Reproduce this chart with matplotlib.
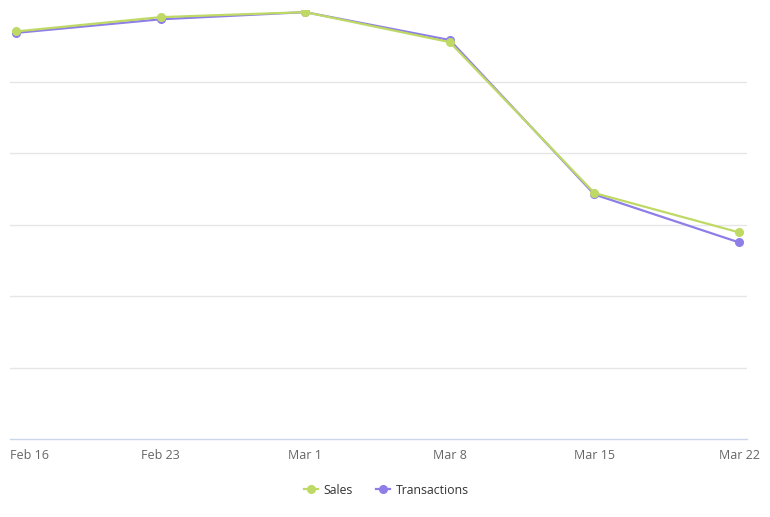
import matplotlib
matplotlib.use('Agg')
import matplotlib.pyplot as plt
import matplotlib.transforms as mtransforms

plt.rcParams['font.family'] = ['Open Sans', 'DejaVu Sans']

weeks = ['Feb 16', 'Feb 23', 'Mar 1', 'Mar 8', 'Mar 15', 'Mar 22']
sales = [5.70, 5.90, 5.97, 5.55, 3.44, 2.89]
transactions = [5.68, 5.87, 5.97, 5.58, 3.42, 2.75]

sales_color = '#bfd965'
trans_color = '#8d7ee8'

fig = plt.figure(figsize=(7.7, 5.17), dpi=100)
ax = fig.add_axes([10 / 770, 78 / 517, 737 / 770, 429 / 517])

x = list(range(len(weeks)))
ax.plot(x, transactions, color=trans_color, lw=1.6, marker='o', ms=5.5,
        label='Transactions', zorder=3)
ax.plot(x, sales, color=sales_color, lw=1.6, marker='o', ms=5.5,
        label='Sales', zorder=4)

ax.set_xlim(-6 / 144.6, 5 + 8 / 144.6)
ax.set_ylim(0, 6)
ax.set_yticks([1, 2, 3, 4, 5])
ax.set_yticklabels([])
ax.grid(axis='y', color='#e6e6e6', lw=1)
ax.tick_params(axis='y', length=0)
ax.set_axisbelow(True)

for s in ['top', 'right', 'left']:
    ax.spines[s].set_visible(False)
ax.spines['bottom'].set_color('#ccd6eb')
ax.spines['bottom'].set_linewidth(1)

ax.set_xticks(x)
ax.set_xticklabels(weeks, fontsize=9, color='#666666')
ax.tick_params(axis='x', length=0, pad=7.5)
first = ax.get_xticklabels()[0]
first.set_ha('left')
first.set_transform(first.get_transform() +
                    mtransforms.ScaledTranslation(-6 / 100, 0, fig.dpi_scale_trans))

handles, labels = ax.get_legend_handles_labels()
leg = fig.legend(handles[::-1], labels[::-1], loc='center', bbox_to_anchor=(0.502, 27 / 517),
                 ncol=2, frameon=False, fontsize=8.8, handlelength=1.1,
                 columnspacing=1.9, handletextpad=0.5)
for t in leg.get_texts():
    t.set_color('#333333')

fig.savefig('out.png', dpi=100)
